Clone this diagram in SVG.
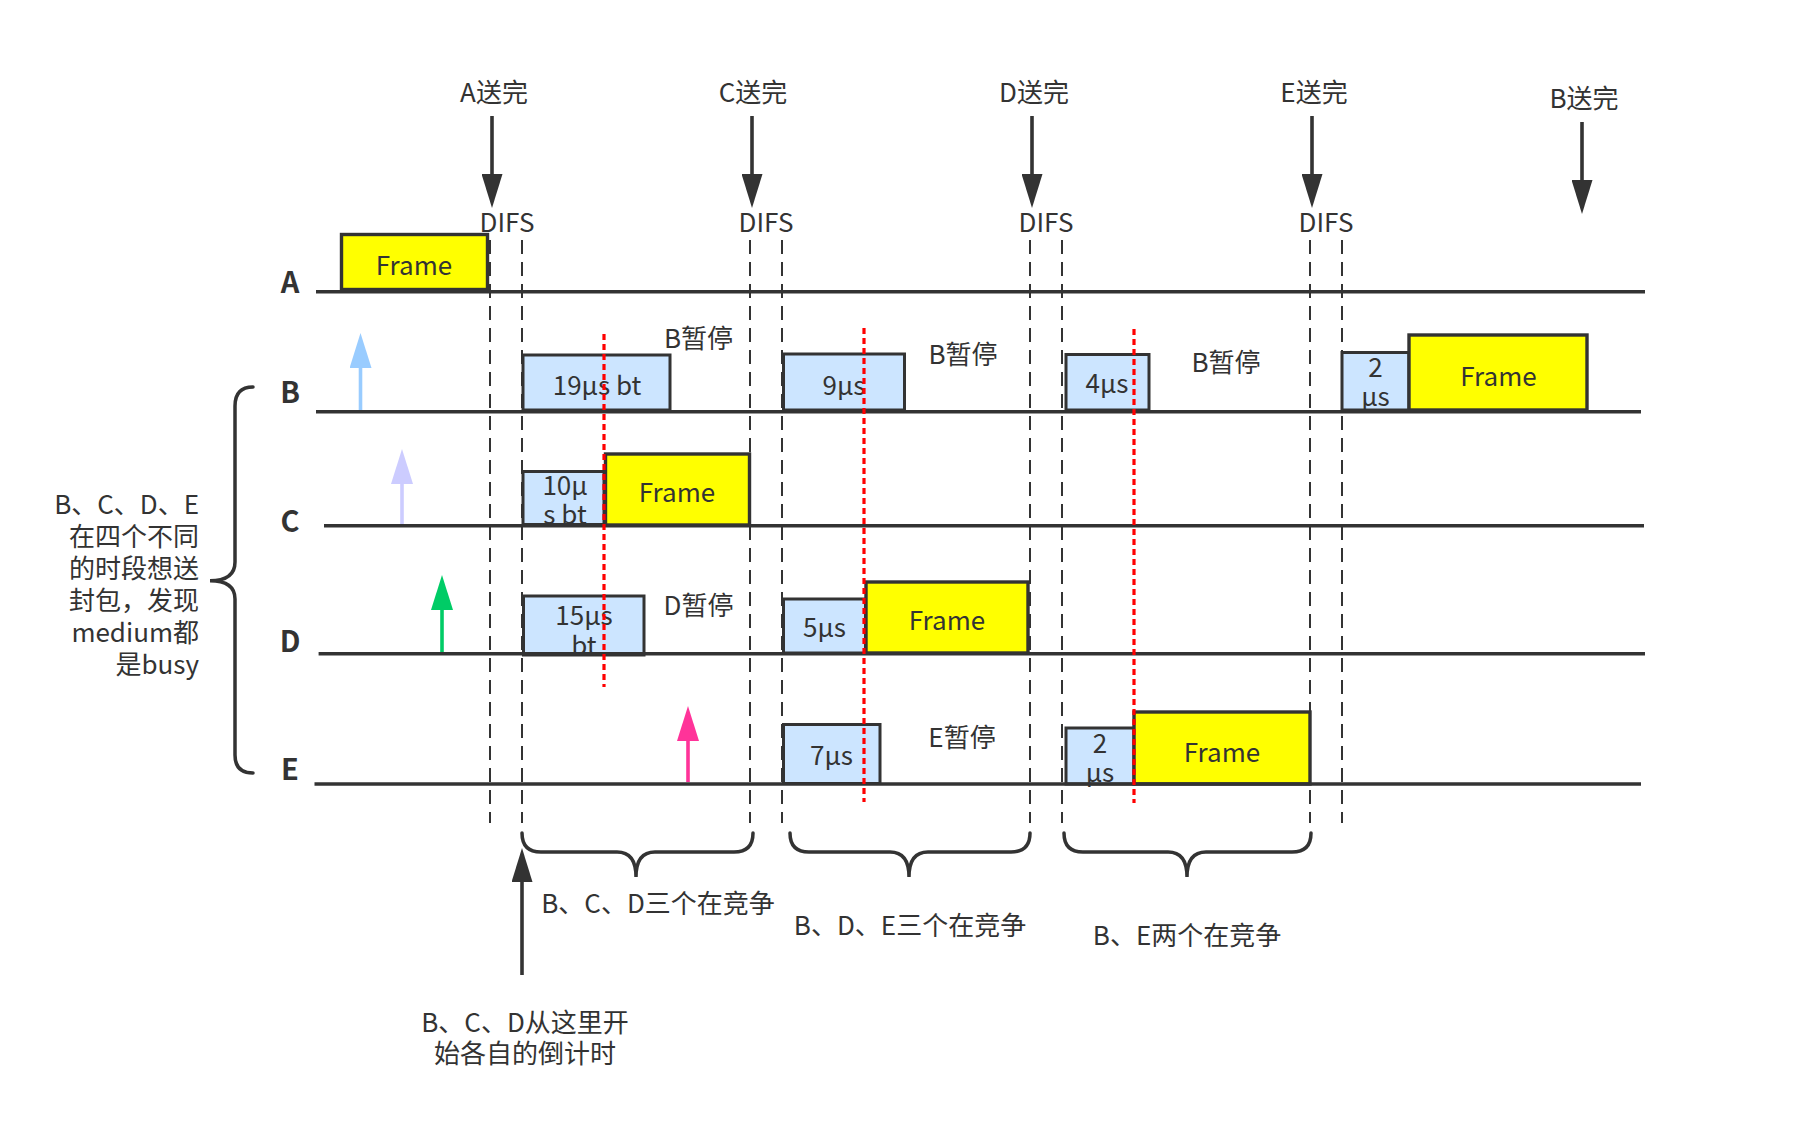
<svg xmlns="http://www.w3.org/2000/svg" width="1794" height="1121" viewBox="0 0 1794 1121">
<style>
text { font-family: "Noto Sans CJK SC", "Noto Sans", sans-serif; fill:#333333; font-size:26px; }
.c { text-anchor: middle; }
.r { text-anchor: end; }
.lbl { font-weight: bold; font-size: 29px; text-anchor: middle; }
.tl { stroke:#333333; stroke-width:3.4; }
.frame { fill:#FFFF00; stroke:#333333; stroke-width:3.4; }
.box { fill:#CCE5FF; stroke:#333333; stroke-width:3; }
.dash { stroke:#333333; stroke-width:2; stroke-dasharray:14 8; fill:none; }
.red { stroke:#FF0000; stroke-width:3.2; stroke-dasharray:6 4; fill:none; }
.brace { fill:none; stroke:#333333; stroke-width:3.5; stroke-linecap:round; }
.arr { stroke-width:3.6; fill:none; }
</style>
<defs>
<marker id="hDark" viewBox="0 0 34 21" refX="0" refY="10.5" markerWidth="34" markerHeight="21" markerUnits="userSpaceOnUse" orient="auto"><path d="M0,0 L34,10.5 L0,21 Z" fill="#333333"/></marker>
<marker id="hBlue" viewBox="0 0 35 22" refX="0" refY="11" markerWidth="35" markerHeight="22" markerUnits="userSpaceOnUse" orient="auto"><path d="M0,0 L35,11 L0,22 Z" fill="#99CCFF"/></marker>
<marker id="hLav" viewBox="0 0 35 22" refX="0" refY="11" markerWidth="35" markerHeight="22" markerUnits="userSpaceOnUse" orient="auto"><path d="M0,0 L35,11 L0,22 Z" fill="#CCCCFF"/></marker>
<marker id="hGreen" viewBox="0 0 35 22" refX="0" refY="11" markerWidth="35" markerHeight="22" markerUnits="userSpaceOnUse" orient="auto"><path d="M0,0 L35,11 L0,22 Z" fill="#00CC66"/></marker>
<marker id="hPink" viewBox="0 0 35 22" refX="0" refY="11" markerWidth="35" markerHeight="22" markerUnits="userSpaceOnUse" orient="auto"><path d="M0,0 L35,11 L0,22 Z" fill="#FF3399"/></marker>
</defs>
<rect x="0" y="0" width="1794" height="1121" fill="#FFFFFF"/>

<!-- DIFS dashed guides -->
<g id="difs-guides">
<line class="dash" x1="490" y1="240" x2="490" y2="823"/>
<line class="dash" x1="522" y1="240" x2="522" y2="823"/>
<line class="dash" x1="750" y1="240" x2="750" y2="823"/>
<line class="dash" x1="782" y1="240" x2="782" y2="823"/>
<line class="dash" x1="1030" y1="240" x2="1030" y2="823"/>
<line class="dash" x1="1062" y1="240" x2="1062" y2="823"/>
<line class="dash" x1="1310" y1="240" x2="1310" y2="823"/>
<line class="dash" x1="1342" y1="240" x2="1342" y2="823"/>
</g>

<!-- frames and backoff boxes -->
<g id="frame-A"><rect class="frame" x="341.5" y="234.5" width="146" height="55"/><text class="c" x="414" y="275">Frame</text></g>
<g id="box-B1"><rect class="box" x="523" y="355" width="147" height="55"/><text class="c" x="597" y="395">19μs bt</text></g>
<g id="box-B2"><rect class="box" x="783.5" y="354" width="121" height="56"/><text class="c" x="844" y="395">9μs</text></g>
<g id="box-B3"><rect class="box" x="1066" y="354.5" width="83" height="55.5"/><text class="c" x="1107" y="393">4μs</text></g>
<g id="box-B4"><rect class="box" x="1342" y="352.5" width="67" height="57.5"/><text class="c" x="1375.5" y="377">2<tspan x="1375.5" dy="29">μs</tspan></text></g>
<g id="frame-B"><rect class="frame" x="1409" y="335" width="178" height="75"/><text class="c" x="1498.5" y="385.5">Frame</text></g>
<g id="box-C1"><rect class="box" x="523" y="471.5" width="81" height="53"/><text class="c" x="565" y="495">10μ<tspan x="565" dy="29">s bt</tspan></text></g>
<g id="frame-C"><rect class="frame" x="605.5" y="454" width="144" height="71"/><text class="c" x="677" y="501.5">Frame</text></g>
<g id="box-D1"><rect class="box" x="523.5" y="596" width="120.5" height="59"/><text class="c" x="584" y="625">15μs<tspan x="584" dy="30">bt</tspan></text></g>
<g id="box-D2"><rect class="box" x="783.5" y="599" width="82" height="54"/><text class="c" x="824.5" y="637">5μs</text></g>
<g id="frame-D"><rect class="frame" x="866" y="582" width="162" height="71"/><text class="c" x="947" y="629.5">Frame</text></g>
<g id="box-E1"><rect class="box" x="783.5" y="724.5" width="96.5" height="59"/><text class="c" x="831.5" y="765">7μs</text></g>
<g id="box-E2"><rect class="box" x="1066" y="728" width="68" height="56"/><text class="c" x="1100" y="753">2<tspan x="1100" dy="29">μs</tspan></text></g>
<g id="frame-E"><rect class="frame" x="1134" y="712" width="176" height="72"/><text class="c" x="1222" y="762">Frame</text></g>

<!-- timelines -->
<g id="timelines">
<line class="tl" x1="316" y1="291.7" x2="1645" y2="291.7"/>
<line class="tl" x1="316" y1="411.7" x2="1641" y2="411.7"/>
<line class="tl" x1="324" y1="525.7" x2="1644" y2="525.7"/>
<line class="tl" x1="318.6" y1="653.8" x2="1645" y2="653.8"/>
<line class="tl" x1="314.5" y1="784" x2="1641" y2="784"/>
</g>

<!-- red collision markers -->
<g id="red-markers">
<line class="red" x1="604" y1="334" x2="604" y2="687"/>
<line class="red" x1="864" y1="328" x2="864" y2="802"/>
<line class="red" x1="1134" y1="329" x2="1134" y2="803"/>
</g>

<!-- row labels -->
<g id="row-labels">
<text class="lbl" x="290" y="293">A</text>
<text class="lbl" x="290" y="403">B</text>
<text class="lbl" x="290" y="532">C</text>
<text class="lbl" x="290" y="652">D</text>
<text class="lbl" x="290" y="780">E</text>
</g>

<!-- top labels -->
<g id="top-labels">
<text class="c" x="494" y="102">A送完</text>
<text class="c" x="753" y="102">C送完</text>
<text class="c" x="1034" y="102">D送完</text>
<text class="c" x="1314" y="102">E送完</text>
<text class="c" x="1584" y="108">B送完</text>
<text class="c" x="507" y="232">DIFS</text>
<text class="c" x="766" y="232">DIFS</text>
<text class="c" x="1046" y="232">DIFS</text>
<text class="c" x="1326" y="232">DIFS</text>
</g>

<!-- pause labels -->
<g id="pause-labels">
<text class="c" x="698.5" y="348">B暂停</text>
<text class="c" x="963" y="364">B暂停</text>
<text class="c" x="1226" y="371.5">B暂停</text>
<text class="c" x="698.5" y="615">D暂停</text>
<text class="c" x="962" y="746.5">E暂停</text>
</g>

<!-- left note -->
<g id="left-note">
<text class="r" x="199" y="514">B、C、D、E<tspan x="199" dy="32">在四个不同</tspan><tspan x="199" dy="32">的时段想送</tspan><tspan x="199" dy="32">封包，发现</tspan><tspan x="199" dy="32">medium都</tspan><tspan x="199" dy="32">是busy</tspan></text>
<path class="brace" d="M253,387 Q235,387 235,406 V562 Q235,580.7 210,580.7 Q235,580.7 235,599 V755 Q235,773 253,773"/>
</g>

<!-- bottom notes -->
<g id="bottom-notes">
<path class="brace" d="M522,833 Q522,852 541,852 H617 Q636,852 636,877 Q636,852 655,852 H734 Q753,852 753,833"/>
<path class="brace" d="M790,833 Q790,852 809,852 H890 Q909,852 909,877 Q909,852 928,852 H1011 Q1030,852 1030,833"/>
<path class="brace" d="M1064,833 Q1064,852 1083,852 H1168 Q1187,852 1187,877 Q1187,852 1206,852 H1292 Q1311,852 1311,833"/>
<text class="c" x="658" y="913">B、C、D三个在竞争</text>
<text class="c" x="910" y="935">B、D、E三个在竞争</text>
<text class="c" x="1187" y="945">B、E两个在竞争</text>
<text class="c" x="525" y="1032">B、C、D从这里开<tspan x="525" dy="31">始各自的倒计时</tspan></text>
</g>

<!-- connectors -->
<g id="connectors">
<line class="arr" stroke="#333333" x1="492" y1="116" x2="492" y2="174" marker-end="url(#hDark)"/>
<line class="arr" stroke="#333333" x1="752" y1="116" x2="752" y2="174" marker-end="url(#hDark)"/>
<line class="arr" stroke="#333333" x1="1032" y1="116" x2="1032" y2="174" marker-end="url(#hDark)"/>
<line class="arr" stroke="#333333" x1="1312" y1="116" x2="1312" y2="174" marker-end="url(#hDark)"/>
<line class="arr" stroke="#333333" x1="1582" y1="122" x2="1582" y2="180" marker-end="url(#hDark)"/>
<line class="arr" stroke="#99CCFF" x1="360.5" y1="410" x2="360.5" y2="368" marker-end="url(#hBlue)"/>
<line class="arr" stroke="#CCCCFF" x1="402" y1="524" x2="402" y2="484" marker-end="url(#hLav)"/>
<line class="arr" stroke="#00CC66" x1="442" y1="652" x2="442" y2="610" marker-end="url(#hGreen)"/>
<line class="arr" stroke="#FF3399" x1="688" y1="782" x2="688" y2="741" marker-end="url(#hPink)"/>
<line class="arr" stroke="#333333" x1="522" y1="975" x2="522" y2="882" marker-end="url(#hDark)"/>
</g>
</svg>
